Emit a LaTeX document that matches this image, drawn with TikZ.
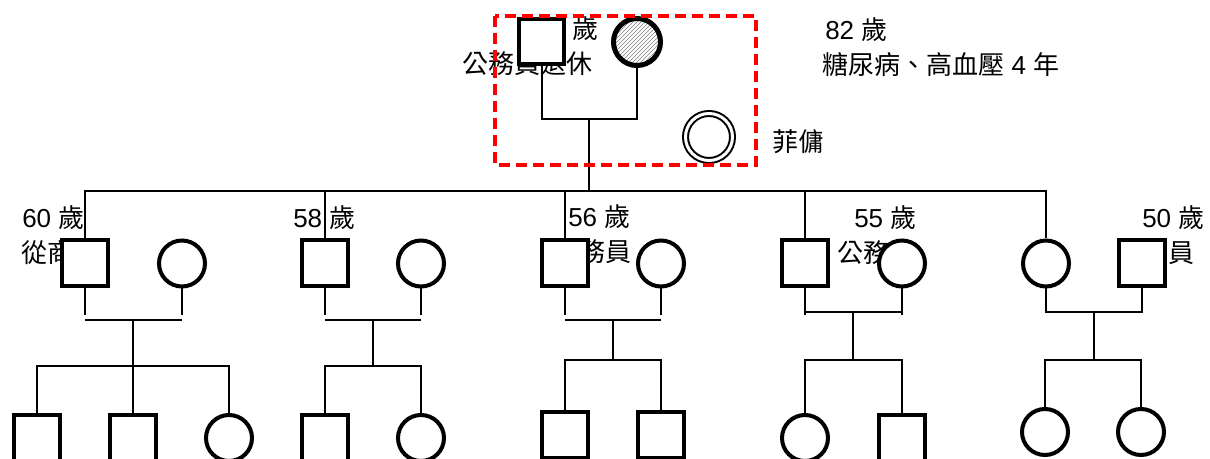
\documentclass[tikz,border=0pt]{standalone}
\usepackage{fontspec}
\setmainfont{Liberation Sans}
\newfontfamily\cjkfont{Noto Sans CJK TC}
\newcommand{\zh}[1]{{\cjkfont #1}}
\usetikzlibrary{patterns}
\begin{document}
\begin{tikzpicture}[x=0.75pt,y=-0.75pt,
  male/.style={draw, rectangle, line width=3pt, minimum size=34.5pt, inner sep=0pt, fill=white},
  female/.style={draw, circle, line width=3pt, minimum size=34.5pt, inner sep=0pt, fill=white},
  link/.style={line width=1.5pt},
  lbl/.style={anchor=west, inner sep=0pt, font=\fontsize{19.5pt}{26pt}\selectfont},
  markbox/.style={draw=red, line width=3pt, dash pattern=on 8pt off 4.75pt}]
\useasboundingbox (0,0) rectangle (1210,459);
\clip (0,0) rectangle (1210,459);
% labels
\node[lbl] (tgf1) at (572,29) {\zh{歲}};
\node[lbl] (tgf2) at (462,64) {\zh{公務員退休}};
\node[lbl] (tgm1) at (825,30) {82 \zh{歲}};
\node[lbl] (tgm2) at (822,65) {\zh{糖尿病、高血壓} 4 \zh{年}};
\node[lbl] (tmaid) at (772,142) {\zh{菲傭}};
\node[lbl] (t1a) at (22,218) {60 \zh{歲}};
\node[lbl] (t1b) at (21,253) {\zh{從商}};
\node[lbl] (t2a) at (293,218) {58 \zh{歲}};
\node[lbl] (t3a) at (568,217) {56 \zh{歲}};
\node[lbl] (t3b) at (553,252) {\zh{公務員}};
\node[lbl] (t4a) at (854,218) {55 \zh{歲}};
\node[lbl] (t4b) at (837,253) {\zh{公務員}};
\node[lbl] (t5a) at (1142,218) {50 \zh{歲}};
\node[lbl] (t5b) at (1116,253) {\zh{公務員}};
% generation 1
\node[male, minimum size=33.75pt] (gf) at (541.5,42) {};
\node[draw, circle, line width=3.75pt, minimum size=35.25pt, inner sep=0pt, pattern=north east lines, pattern color=gray] (gm) at (637,42) {};
\node[draw, circle, double, line width=1.5pt, double distance=2.25pt, minimum size=35.25pt, inner sep=0pt] (maid) at (709,137) {};
% generation 2
\node[male] (h1) at (85,263.5) {};
\node[female] (w1) at (182,263.5) {};
\node[male] (h2) at (325,263.5) {};
\node[female] (w2) at (421,263.5) {};
\node[male] (h3) at (565,263.5) {};
\node[female] (w3) at (661,263.5) {};
\node[male] (h4) at (805,263.5) {};
\node[female] (w4) at (902,263.5) {};
\node[female] (d5) at (1046,263.5) {};
\node[male] (hw5) at (1142,263.5) {};
% generation 3
\node[male] (g11) at (37,438) {};
\node[male] (g12) at (133,438) {};
\node[female] (g13) at (229,438) {};
\node[male] (g21) at (325,438) {};
\node[female] (g22) at (421,438) {};
\node[male] (g31) at (565,435) {};
\node[male] (g32) at (661,435) {};
\node[female] (g41) at (805,438) {};
\node[male] (g42) at (901.5,438) {};
\node[female] (g51) at (1045,432) {};
\node[female] (g52) at (1141,432) {};
% junctions
\coordinate (gj) at (589,119);
\coordinate (sib) at (589,191);
\coordinate (y315) at (0,315);
\coordinate (m1) at (133,320);  \coordinate (b1) at (133,366);
\coordinate (m2) at (373,320);  \coordinate (b2) at (373,366);
\coordinate (m3) at (613,320);  \coordinate (b3) at (613,360);
\coordinate (m4) at (853,312);  \coordinate (b4) at (853,360);
\coordinate (m5) at (1094,312); \coordinate (b5) at (1094,360);
% connectors generation 1
\draw[link] (gf.south) |- (gj) -| (gm.south);
\draw[link] (gj) -- (sib);
\draw[link] (h1.north) |- (sib) -| (d5.north);
\draw[link] (h2.north) -- (h2.north |- sib);
\draw[link] (h3.north) -- (h3.north |- sib);
\draw[link] (h4.north) -- (h4.north |- sib);
% family 1
\draw[link] (h1.south) -- (h1.south |- y315);
\draw[link] (w1.south) -- (w1.south |- y315);
\draw[link] (h1.south |- m1) -- (w1.south |- m1);
\draw[link] (m1) -- (g12.north);
\draw[link] (g11.north) |- (b1) -| (g13.north);
% family 2
\draw[link] (h2.south) -- (h2.south |- y315);
\draw[link] (w2.south) -- (w2.south |- y315);
\draw[link] (h2.south |- m2) -- (w2.south |- m2);
\draw[link] (m2) -- (b2);
\draw[link] (g21.north) |- (b2) -| (g22.north);
% family 3
\draw[link] (h3.south) -- (h3.south |- y315);
\draw[link] (w3.south) -- (w3.south |- y315);
\draw[link] (h3.south |- m3) -- (w3.south |- m3);
\draw[link] (m3) -- (b3);
\draw[link] (g31.north) |- (b3) -| (g32.north);
% family 4
\draw[link] (h4.south) -- (h4.south |- y315);
\draw[link] (w4.south) -- (w4.south |- y315);
\draw[link] (h4.south |- m4) -- (w4.south |- m4);
\draw[link] (m4) -- (b4);
\draw[link] (g41.north) |- (b4) -| (g42.north);
% family 5
\draw[link] (d5.south) |- (m5) -| (hw5.south);
\draw[link] (m5) -- (b5);
\draw[link] (g51.north) |- (b5) -| (g52.north);
% highlighted household
\draw[markbox] (495,16) rectangle (756,165);
\end{tikzpicture}
\end{document}
